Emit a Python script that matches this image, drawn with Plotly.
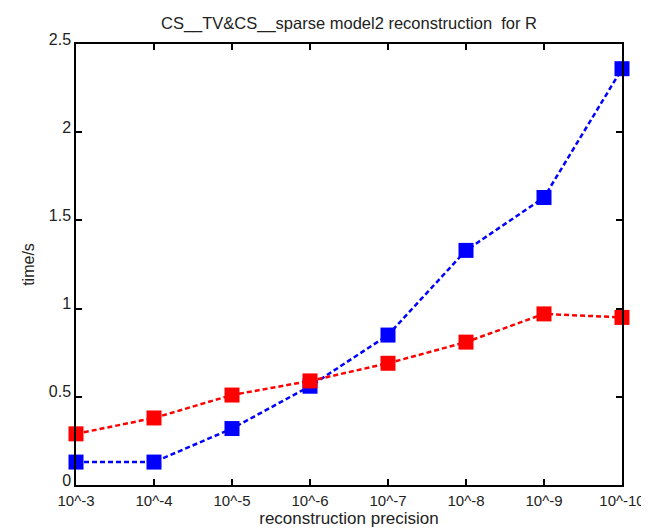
import plotly.graph_objects as go

precision_labels = ["10^-3", "10^-4", "10^-5", "10^-6", "10^-7", "10^-8", "10^-9", "10^-10"]
blue_times = [0.13, 0.13, 0.32, 0.56, 0.85, 1.33, 1.63, 2.36]
red_times = [0.29, 0.38, 0.51, 0.59, 0.69, 0.81, 0.97, 0.95]
y_ticks = [0, 0.5, 1, 1.5, 2, 2.5]
y_tick_labels = ["0", "0.5", "1", "1.5", "2", "2.5"]

x_idx = list(range(len(precision_labels)))

fig = go.Figure()
fig.add_trace(go.Scatter(
    x=x_idx, y=blue_times, mode="lines+markers",
    line=dict(color="#0000ff", width=2.5, dash="5px,3px"),
    marker=dict(symbol="square", size=15, color="#0000ff"),
    cliponaxis=False, showlegend=False,
))
fig.add_trace(go.Scatter(
    x=x_idx, y=red_times, mode="lines+markers",
    line=dict(color="#ff0000", width=2.5, dash="5px,3px"),
    marker=dict(symbol="square", size=15, color="#ff0000"),
    cliponaxis=False, showlegend=False,
))

fam = "Liberation Sans, Arial, sans-serif"

fig.update_layout(
    width=649, height=529,
    margin=dict(l=68, r=24, t=36, b=48),
    paper_bgcolor="white", plot_bgcolor="white",
    font=dict(family=fam, size=15, color="black"),
    title=dict(text="CS__TV&CS__sparse model2 reconstruction  for R",
               x=0.5, xref="paper", xanchor="center",
               y=1 - 15 / 529, yref="container", yanchor="middle",
               font=dict(family=fam, size=16.5, color="#222")),
)
fig.update_xaxes(
    range=[0, len(precision_labels) - 1],
    tickmode="array", tickvals=x_idx, ticktext=precision_labels,
    tickfont=dict(family=fam, size=15, color="#222"),
    ticks="inside", ticklen=6, tickwidth=1.5, tickcolor="black",
    showline=True, linecolor="black", linewidth=1.5, mirror="ticks",
    showgrid=False, zeroline=False, ticklabelstandoff=1,
    title=dict(text="reconstruction precision", standoff=4,
               font=dict(family=fam, size=17, color="#222")),
)
fig.update_yaxes(
    range=[0, 2.5],
    tickmode="array", tickvals=y_ticks, ticktext=y_tick_labels,
    tickfont=dict(family=fam, size=16, color="#222"),
    ticks="inside", ticklen=6, tickwidth=1.5, tickcolor="black",
    showline=True, linecolor="black", linewidth=1.5, mirror="ticks",
    showgrid=False, zeroline=False, ticklabelshift=-5,
    title=dict(text="time/s", standoff=10,
               font=dict(family=fam, size=16, color="#222")),
)

fig.write_html("out.html")
